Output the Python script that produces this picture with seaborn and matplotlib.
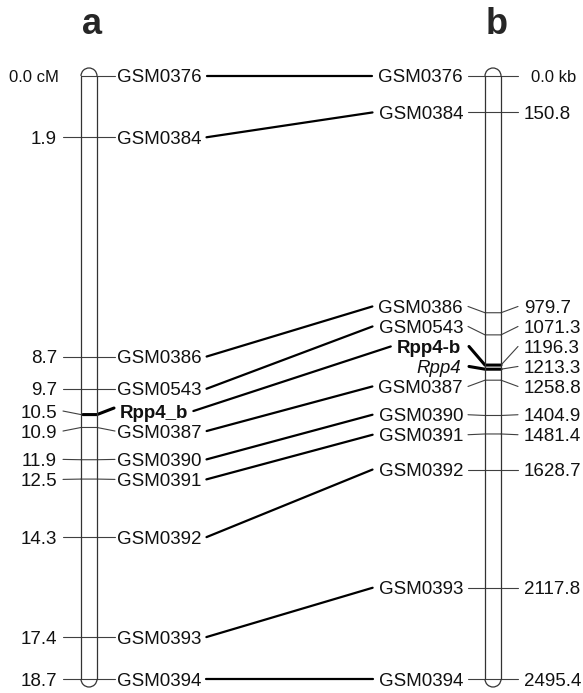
import numpy as np
import pandas as pd
import matplotlib
matplotlib.use("Agg")
import matplotlib.pyplot as plt
import seaborn as sns
from matplotlib.patches import Arc

sns.set_theme(style="white")
plt.rcParams['font.family'] = ['Liberation Sans', 'DejaVu Sans']

# ---------------- data ----------------
left_markers = ["GSM0376", "GSM0384", "GSM0386", "GSM0543", "Rpp4_b", "GSM0387",
                "GSM0390", "GSM0391", "GSM0392", "GSM0393", "GSM0394"]
left_cM = [0.0, 1.9, 8.7, 9.7, 10.5, 10.9, 11.9, 12.5, 14.3, 17.4, 18.7]
left_num_labels = ["0.0 cM", "1.9", "8.7", "9.7", "10.5", "10.9", "11.9", "12.5",
                   "14.3", "17.4", "18.7"]

right_markers = ["GSM0376", "GSM0384", "GSM0386", "GSM0543", "Rpp4-b", "Rpp4", "GSM0387",
                 "GSM0390", "GSM0391", "GSM0392", "GSM0393", "GSM0394"]
right_kb = [0.0, 150.8, 979.7, 1071.3, 1196.3, 1213.3, 1258.8, 1404.9, 1481.4,
            1628.7, 2117.8, 2495.4]
right_num_labels = ["0.0 kb", "150.8", "979.7", "1071.3", "1196.3", "1213.3", "1258.8",
                    "1404.9", "1481.4", "1628.7", "2117.8", "2495.4"]

links = [("GSM0376", "GSM0376"), ("GSM0384", "GSM0384"), ("GSM0386", "GSM0386"),
         ("GSM0543", "GSM0543"), ("Rpp4_b", "Rpp4-b"), ("GSM0387", "GSM0387"),
         ("GSM0390", "GSM0390"), ("GSM0391", "GSM0391"), ("GSM0392", "GSM0392"),
         ("GSM0393", "GSM0393"), ("GSM0394", "GSM0394")]

left_highlight = ["Rpp4_b"]
right_bold = ["Rpp4-b"]
right_italic = ["Rpp4"]
right_highlight = ["Rpp4-b", "Rpp4"]

# ---------------- layout ----------------
W, H = 583, 693
fig = plt.figure(figsize=(W / 100, H / 100), dpi=100)
ax = fig.add_axes([0, 0, 1, 1])
ax.set_xlim(0, W)
ax.set_ylim(H, 0)
ax.axis('off')

Y0, Y1 = 76, 679
HALF = 8
LCX, RCX = 89, 493
FS = 13.5
THIN = '#404040'


def scale(vals):
    vals = np.asarray(vals, float)
    return Y0 + vals / vals[-1] * (Y1 - Y0)


def spread(pos, gap):
    pos = np.asarray(pos, float)
    clusters = [[i] for i in range(len(pos))]
    while True:
        out = np.empty_like(pos)
        for c in clusters:
            m = (pos[c].min() + pos[c].max()) / 2
            k = len(c)
            out[c] = m + (np.arange(k) - (k - 1) / 2) * gap
        merged = False
        for j in range(len(clusters) - 1):
            if out[clusters[j][-1]] + gap > out[clusters[j + 1][0]] + 1e-9:
                clusters[j] = clusters[j] + clusters[j + 1]
                del clusters[j + 1]
                merged = True
                break
        if not merged:
            return out


yl = scale(left_cM)
yr = scale(right_kb)
ll = spread(yl, 20)
lr = spread(yr, 20)


def chromosome(cx):
    ax.plot([cx - HALF, cx - HALF], [Y0, Y1], color='#333333', lw=0.9, zorder=3)
    ax.plot([cx + HALF, cx + HALF], [Y0, Y1], color='#333333', lw=0.9, zorder=3)
    ax.add_patch(Arc((cx, Y0), 2 * HALF, 2 * HALF, theta1=180, theta2=360,
                     color='#333333', lw=0.9, zorder=3))
    ax.add_patch(Arc((cx, Y1), 2 * HALF, 2 * HALF, theta1=0, theta2=180,
                     color='#333333', lw=0.9, zorder=3))


chromosome(LCX)
chromosome(RCX)

thin_rows, thick_rows = [], []


def seg(rows, uid, pts):
    for k, (x, y) in enumerate(pts):
        rows.append({"u": uid, "o": k, "x": x, "y": y})


# left ticks
for i, m in enumerate(left_markers):
    a = LCX - HALF
    b = LCX + HALF
    if i > 0:
        seg(thin_rows, f"L{i}a", [(63, ll[i]), (a, yl[i])])
    if m in left_highlight:
        seg(thick_rows, f"L{i}b", [(a + 2, yl[i]), (b, yl[i]), (114, ll[i] - 3)])
    else:
        seg(thin_rows, f"L{i}b", [(a, yl[i]), (b, yl[i]), (115, ll[i])])

# right ticks
for j, m in enumerate(right_markers):
    a = RCX - HALF
    b = RCX + HALF
    if m in right_highlight:
        seg(thick_rows, f"R{j}a", [(469, lr[j]), (a, yr[j]), (b, yr[j])])
    else:
        seg(thin_rows, f"R{j}a", [(468, lr[j]), (a, yr[j]), (b, yr[j])])
    seg(thin_rows, f"R{j}b", [(b, yr[j]), (518, lr[j])])

sns.lineplot(data=pd.DataFrame(thin_rows), x="x", y="y", units="u", estimator=None,
             sort=False, color=THIN, lw=0.8, ax=ax, legend=False)
sns.lineplot(data=pd.DataFrame(thick_rows), x="x", y="y", units="u", estimator=None,
             sort=False, color='black', lw=2.2, ax=ax, legend=False)

# texts
ltext = {}
for i, m in enumerate(left_markers):
    bold = m in left_highlight
    ltext[m] = ax.text(120 if bold else 117, ll[i], m, ha='left', va='center_baseline',
                       fontsize=FS, fontweight='bold' if bold else 'normal', color='#111111')
    lab = left_num_labels[i]
    ax.text(59 if i == 0 else 57, ll[i], lab, ha='right', va='center_baseline',
            fontsize=12 if i == 0 else FS, color='#111111')

rtext = {}
for j, m in enumerate(right_markers):
    rtext[m] = ax.text(461 if m in right_highlight else 463, lr[j], m, ha='right',
                       va='center_baseline', fontsize=FS,
                       fontweight='bold' if m in right_bold else 'normal',
                       fontstyle='italic' if m in right_italic else 'normal',
                       color='#111111')
    ax.text(531 if j == 0 else 524, lr[j], right_num_labels[j], ha='left',
            va='center_baseline', fontsize=12 if j == 0 else FS, color='#111111')

ax.text(92, 34, "a", ha='center', va='baseline', fontsize=26, fontweight='bold')
ax.text(497, 34, "b", ha='center', va='baseline', fontsize=26, fontweight='bold')

# connectors
fig.canvas.draw()
inv = ax.transData.inverted()
crow = []
for k, (lm, rm) in enumerate(links):
    i = left_markers.index(lm)
    j = right_markers.index(rm)
    bl = inv.transform(ltext[lm].get_window_extent().get_points())
    br = inv.transform(rtext[rm].get_window_extent().get_points())
    x_start = max(bl[:, 0]) + 5
    x_end = min(br[:, 0]) - 6
    seg(crow, f"C{k}", [(x_start, ll[i]), (x_end, lr[j])])

sns.lineplot(data=pd.DataFrame(crow), x="x", y="y", units="u", estimator=None,
             sort=False, color='black', lw=1.6, ax=ax, legend=False)

ax.set_xlim(0, W)
ax.set_ylim(H, 0)
ax.axis('off')
fig.savefig("out.png", dpi=100)
